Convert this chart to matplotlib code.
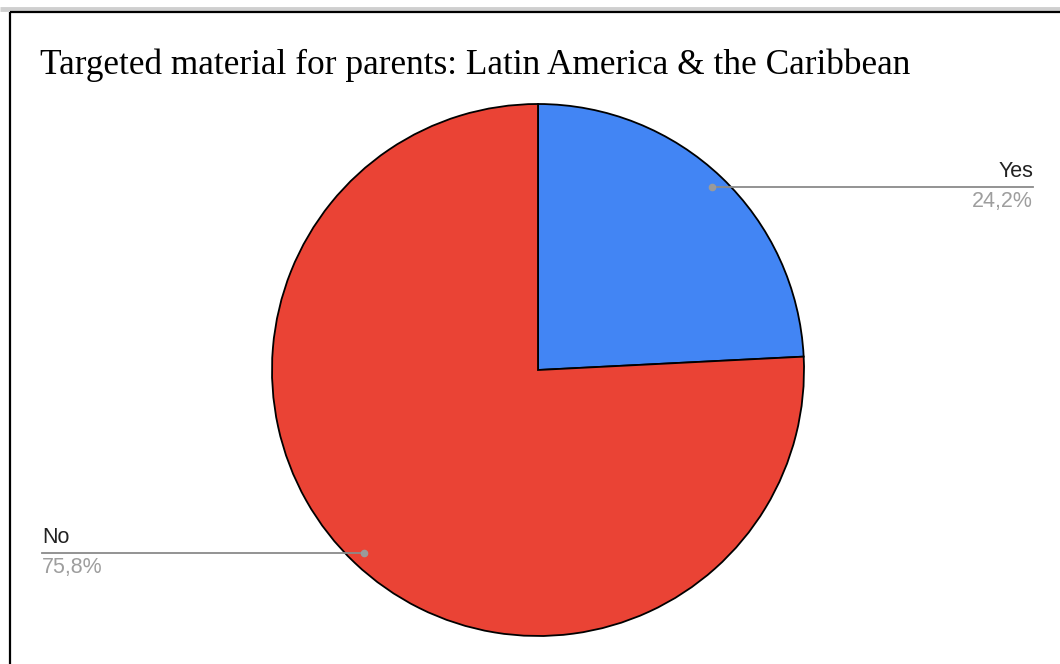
import numpy as np
import matplotlib.pyplot as plt

W, H = 1060, 664

title = "Targeted material for parents: Latin America & the Caribbean"
labels = ["Yes", "No"]
values = [24.2, 75.8]
colors = ["#4285F4", "#EA4335"]

fig = plt.figure(figsize=(W / 100, H / 100), dpi=100)
ax = fig.add_axes([0, 0, 1, 1])

# frame of the screenshot (grey band + black border)
ax.plot([0, W], [H - 9, H - 9], color="#cfcfcf", lw=3.5, solid_capstyle="butt")
ax.plot([9.5, W], [H - 12, H - 12], color="black", lw=1.6, solid_capstyle="butt")
ax.plot([9.5, 9.5], [0, H - 12], color="black", lw=1.6, solid_capstyle="butt")

cx, cy, r = 538, H - 370, 266
wedges, _ = ax.pie(values, colors=colors, startangle=90, counterclock=False,
                   center=(cx, cy), radius=r,
                   wedgeprops=dict(edgecolor="black", linewidth=1.3))

ax.set_xlim(0, W)
ax.set_ylim(0, H)
ax.set_aspect("equal")
ax.axis("off")

ax.text(40, H - 74, title, family="Liberation Serif", fontsize=25.4,
        color="black", va="baseline", ha="left")

# leader lines and labels
text_x = {"Yes": 1033, "No": 42}
for w, lab, v in zip(wedges, labels, values):
    mid = np.deg2rad((w.theta1 + w.theta2) / 2)
    px = cx + 0.95 * r * np.cos(mid)
    py = cy + 0.95 * r * np.sin(mid)
    tx = text_x[lab]
    ha = "right" if tx > px else "left"
    ax.plot([px, tx], [py, py], color="#8a8a8a", lw=1.3)
    ax.plot([px], [py], "o", color="#9a9a9a", ms=4.5)
    ax.text(tx, py + 5, lab, family="Liberation Sans", fontsize=15.5,
            color="#222222", ha=ha, va="bottom")
    ax.text(tx, py - 4, f"{v:.1f}%".replace(".", ","), family="Liberation Sans",
            fontsize=15.5, color="#9e9e9e", ha=ha, va="top")

fig.savefig("out.png", dpi=100)
